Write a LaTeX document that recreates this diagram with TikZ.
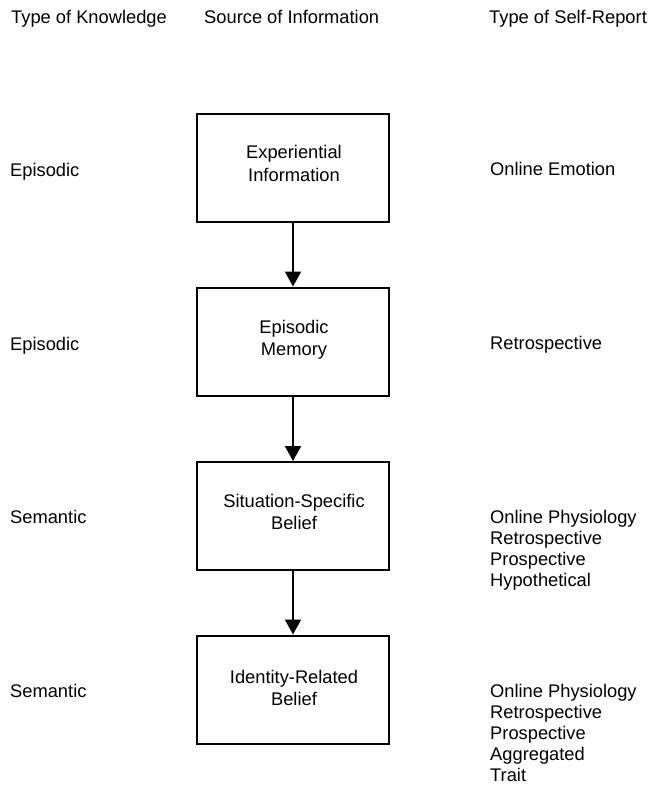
\documentclass[tikz,border=0pt]{standalone}
\usepackage{fontspec}
\setmainfont{Liberation Sans}
\usetikzlibrary{arrows.meta}
\begin{document}
\begin{tikzpicture}[x=1pt,y=-1pt,
  every node/.style={inner sep=0pt, font=\fontsize{18.3}{21}\selectfont},
  hdr/.style={anchor=base west},
  srcbox/.style={draw, line width=2pt, minimum width=192pt, minimum height=108pt},
  boxtext/.style={align=center, font=\fontsize{18.3}{22.5}\selectfont},
  listtext/.style={align=left, anchor=north west},
  flow/.style={line width=2pt, -{Triangle[width=16pt,length=15pt]}}]
\useasboundingbox (0,0) rectangle (651,786);
% headers
\node[hdr] (h1) at (11,24) {Type of Knowledge};
\node[hdr] (h2) at (204,24) {Source of Information};
\node[hdr] (h3) at (489,24) {Type of Self-Report};
% boxes
\node[srcbox] (b1) at (293,168) {};
\node[srcbox] (b2) at (293,341.5) {};
\node[srcbox] (b3) at (293,516) {};
\node[srcbox] (b4) at (293,689.5) {};
\node[boxtext] (t1) at (294,163.5) {Experiential\\Information};
\node[boxtext] (t2) at (294,340) {Episodic\\Memory};
\node[boxtext] (t3) at (294,512) {Situation-Specific\\Belief};
\node[boxtext] (t4) at (294,688) {Identity-Related\\Belief};
% arrows
\draw[flow] (b1.south) -- (b2.north);
\draw[flow] (b2.south) -- (b3.north);
\draw[flow] (b3.south) -- (b4.north);
% left column
\node[hdr] (k1) at (10,177) {Episodic};
\node[hdr] (k2) at (10,350) {Episodic};
\node[hdr] (k3) at (10,523) {Semantic};
\node[hdr] (k4) at (10,697) {Semantic};
% right column
\node[hdr] (r1) at (490,176) {Online Emotion};
\node[hdr] (r2) at (490,349) {Retrospective};
\node[listtext] (r3) at (490,510) {Online Physiology\\Retrospective\\Prospective\\Hypothetical};
\node[listtext] (r4) at (490,684) {Online Physiology\\Retrospective\\Prospective\\Aggregated\\Trait};
\end{tikzpicture}
\end{document}
